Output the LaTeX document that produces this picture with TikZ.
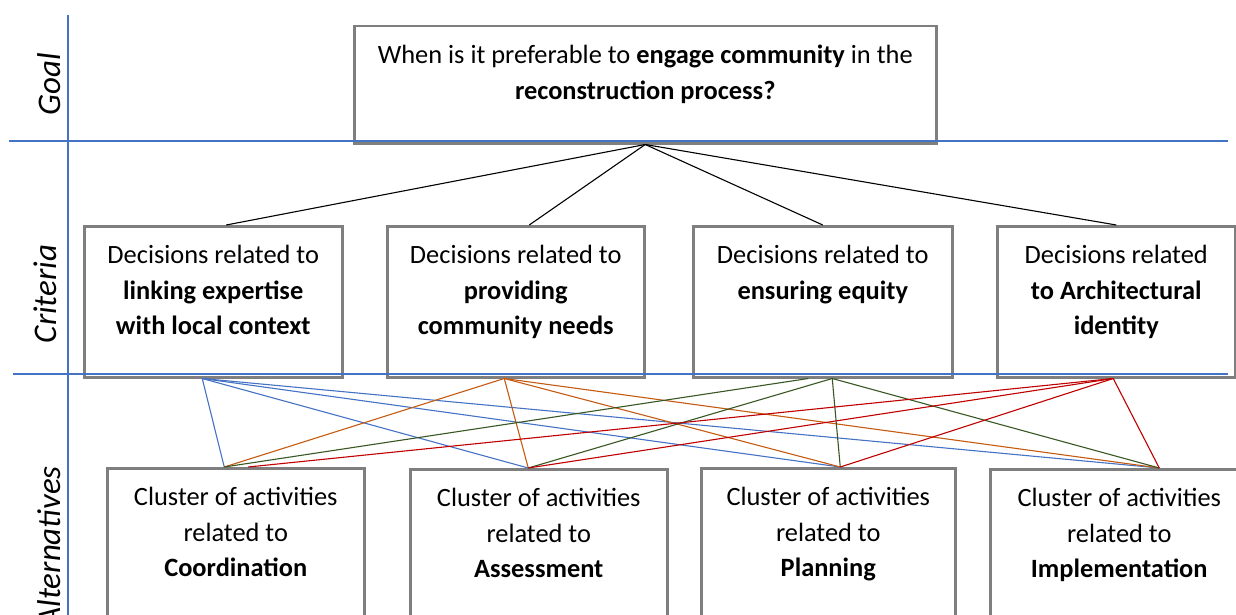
\documentclass[tikz,border=0pt]{standalone}
\usepackage{fontspec}
\setmainfont{Carlito}
\usetikzlibrary{calc}

\definecolor{axisblue}{HTML}{4472C4}
\definecolor{boxgray}{HTML}{7F7F7F}
\definecolor{linkblue}{HTML}{4472C4}
\definecolor{linkorange}{HTML}{C55A11}
\definecolor{linkgreen}{HTML}{385723}
\definecolor{linkred}{HTML}{C00000}

% text block pinned to the top of a box
\newcommand{\boxtext}[3]{\parbox[c][#2][t]{#1}{\centering\vspace*{6.4pt}\strut #3}}

\tikzset{
  cell/.style={draw=boxgray, line width=1.25pt, inner sep=0pt, anchor=north west,
    font=\fontsize{13.2}{17.75}\selectfont},
  layer/.style={rotate=90, inner sep=0pt, font=\fontsize{16.5}{20}\selectfont\itshape},
  axis/.style={draw=axisblue, line width=0.6pt},
  tie/.style={line width=0.55pt}
}

\begin{document}
\begin{tikzpicture}[x=0.5pt, y=-0.5pt]
\useasboundingbox (0,0) rectangle (1236,615);

% Goal
\node[cell] (goal) at (353,25) {\boxtext{291pt}{58.5pt}{When is it preferable to \textbf{engage community} in the\\ \textbf{reconstruction process?}}};

% Criteria
\node[cell] (c1) at (83,225) {\boxtext{129pt}{75.5pt}{Decisions related to\\ \textbf{linking expertise}\\ \textbf{with local context}}};
\node[cell] (c2) at (386,225) {\boxtext{128.5pt}{75.5pt}{Decisions related to\\ \textbf{providing}\\ \textbf{community needs}}};
\node[cell] (c3) at (692,225) {\boxtext{129.5pt}{75.5pt}{Decisions related to\\ \textbf{ensuring equity}}};
\node[cell] (c4) at (996,225) {\boxtext{119pt}{75.5pt}{Decisions related\\ \textbf{to Architectural}\\ \textbf{identity}}};

% Alternatives
\node[cell] (a1) at (106,467) {\boxtext{128.5pt}{92pt}{Cluster of activities\\ related to\\ \textbf{Coordination}}};
\node[cell] (a2) at (409,468) {\boxtext{128.5pt}{92pt}{Cluster of activities\\ related to\\ \textbf{Assessment}}};
\node[cell] (a3) at (700,467) {\boxtext{127pt}{92pt}{Cluster of activities\\ related to\\ \textbf{Planning}}};
\node[cell] (a4) at (989,468) {\boxtext{129pt}{92pt}{Cluster of activities\\ related to\\ \textbf{Implementation}}};

% Layer labels
\node[layer, anchor=base] (goallbl) at (60,84) {Goal};
\node[layer, anchor=base] (critlbl) at (56,294) {Criteria};
\node[layer, anchor=base east] (altlbl) at (60,466) {Alternatives};

% Dividers
\draw[axis] (68,15) -- (68,615);
\draw[axis] (9,141) -- (1228,141);
\draw[axis] (13,374) -- (1228,374);

% Goal to criteria
\foreach \c/\dc in {c1/13, c2/13.5, c3/0, c4/0}
  \draw[tie] (goal.south) -- ($(\c.north)+(\dc,0)$);

% Criteria to alternatives
\foreach \c/\dc/\a/\da/\col in {
    c1/-11/a1/-11.5/linkblue, c1/-11/a2/-10.5/linkblue, c1/-11/a3/12/linkblue, c1/-11/a4/40/linkblue,
    c2/-11.5/a1/-11.5/linkorange, c2/-11.5/a2/-10.5/linkorange, c2/-11.5/a3/12/linkorange, c2/-11.5/a4/40/linkorange,
    c3/-14.5/a1/-11.5/linkgreen, c3/9.5/a2/-10.5/linkgreen, c3/9.5/a3/12/linkgreen, c3/9.5/a4/40/linkgreen,
    c4/-3/a1/12.5/linkred, c4/-3/a2/-10.5/linkred, c4/-3/a3/12/linkred, c4/-3/a4/40/linkred}
  \draw[tie, \col] ($(\c.south)+(\dc,0)$) -- ($(\a.north)+(\da,0)$);
\end{tikzpicture}
\end{document}
